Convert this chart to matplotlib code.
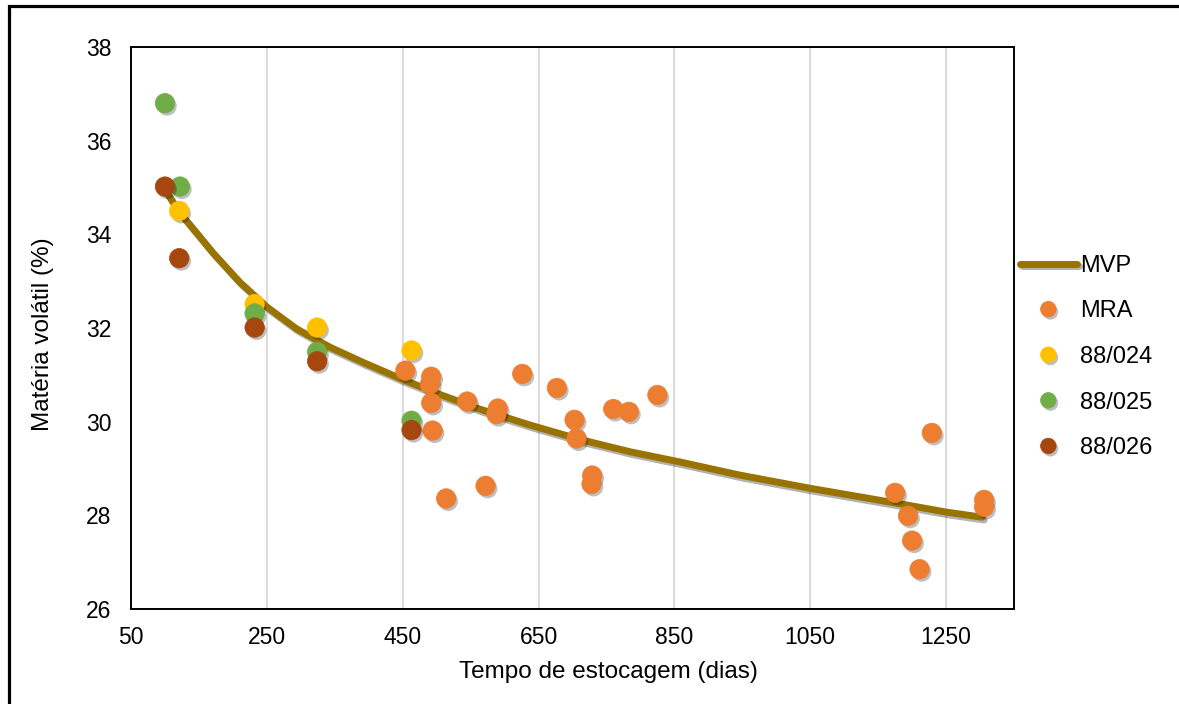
import matplotlib.pyplot as plt
import matplotlib.patheffects as pe
from matplotlib.patches import Rectangle

# curva MVP
mvp_x = [100, 122, 171, 210, 250, 294, 343, 391, 450, 505, 563, 637, 711, 784, 858, 946, 1049, 1177, 1250, 1303]
mvp_y = [34.95, 34.46, 33.60, 32.98, 32.45, 31.98, 31.59, 31.27, 30.90, 30.58, 30.27, 29.93, 29.62, 29.36,
         29.14, 28.86, 28.58, 28.26, 28.07, 27.96]

# MRA
mra_x = [454, 492, 490, 492, 494, 514, 545, 572, 590, 588, 626, 677, 703, 706, 729, 728, 760, 783, 825,
         1175, 1194, 1200, 1211, 1229, 1306, 1306]
mra_y = [31.09, 30.96, 30.80, 30.40, 29.81, 28.36, 30.43, 28.63, 30.28, 30.16, 31.02, 30.72, 30.04, 29.64,
         28.85, 28.67, 30.27, 30.21, 30.57, 28.48, 27.99, 27.46, 26.85, 29.76, 28.33, 28.18]

# lotes 88/024, 88/025, 88/026
l024_x = [121, 232, 324, 463]
l024_y = [34.50, 32.51, 32.01, 31.52]
l025_x = [100, 122, 232, 324, 463]
l025_y = [36.80, 35.02, 32.31, 31.49, 30.02]
l026_x = [100, 121, 232, 324, 463]
l026_y = [35.02, 33.49, 32.01, 31.29, 29.82]

x_ticks = [50, 250, 450, 650, 850, 1050, 1250]
y_ticks = [26, 28, 30, 32, 34, 36, 38]

plt.rcParams['font.family'] = ['Liberation Sans', 'DejaVu Sans']

fig = plt.figure(figsize=(11.79, 7.04), dpi=100)
ax = fig.add_axes([131 / 1179, 1 - 609 / 704, (1014 - 131) / 1179, (609 - 47) / 704])

sombra_linha = [pe.SimpleLineShadow(offset=(1.5, -2), alpha=0.3, shadow_color='black'), pe.Normal()]
sombra_ponto = [pe.SimplePatchShadow(offset=(1.5, -2), alpha=0.25, shadow_rgbFace='black'), pe.Normal()]

ax.plot(mvp_x, mvp_y, color='#997300', lw=5, solid_capstyle='round', solid_joinstyle='round',
        label='MVP', path_effects=sombra_linha, zorder=3)

series = [
    (mra_x, mra_y, '#ED7D31', 'MRA'),
    (l024_x, l024_y, '#FFC000', '88/024'),
    (l025_x, l025_y, '#70AD47', '88/025'),
    (l026_x, l026_y, '#A5470E', '88/026'),
]
for xs, ys, cor, nome in series:
    ax.plot(xs, ys, 'o', ms=14, color=cor, mec=cor, mew=0.5, label=nome,
            path_effects=sombra_ponto, zorder=4)

ax.set_xlim(50, 1350)
ax.set_ylim(26, 38)
ax.set_xticks(x_ticks)
ax.set_yticks(y_ticks)
ax.tick_params(length=0, labelsize=16.5)
ax.tick_params(axis='y', pad=14)
ax.tick_params(axis='x', pad=12)
ax.grid(axis='x', color='#D9D9D9', lw=1.4)
ax.set_axisbelow(True)
for s in ax.spines.values():
    s.set_linewidth(1.4)
    s.set_color('black')

ax.set_xlabel('Tempo de estocagem (dias)', fontsize=17.5)
ax.set_ylabel('Matéria volátil (%)', fontsize=17.5)
ax.xaxis.set_label_coords((608 - 131) / 883, -(672 - 609) / 562, transform=ax.transAxes)
ax.yaxis.set_label_coords(-(131 - 43) / 883, (609 - 334) / 562, transform=ax.transAxes)
ax.xaxis.label.set_va('center')
ax.yaxis.label.set_va('center')

leg = ax.legend(loc='center left', bbox_to_anchor=(1020 / 1179, 1 - 357 / 704),
                bbox_transform=fig.transFigure, frameon=False, fontsize=17,
                handlelength=2.4, handletextpad=0.15, labelspacing=1.0,
                borderpad=0, borderaxespad=0, markerscale=0.8)

# moldura da figura
fig.patches.append(Rectangle((8.5 / 1179, -0.1), 1.2, 1.1 - 6.5 / 704, transform=fig.transFigure,
                             fill=False, ec='black', lw=2.3))

fig.savefig('out.png', dpi=100)
